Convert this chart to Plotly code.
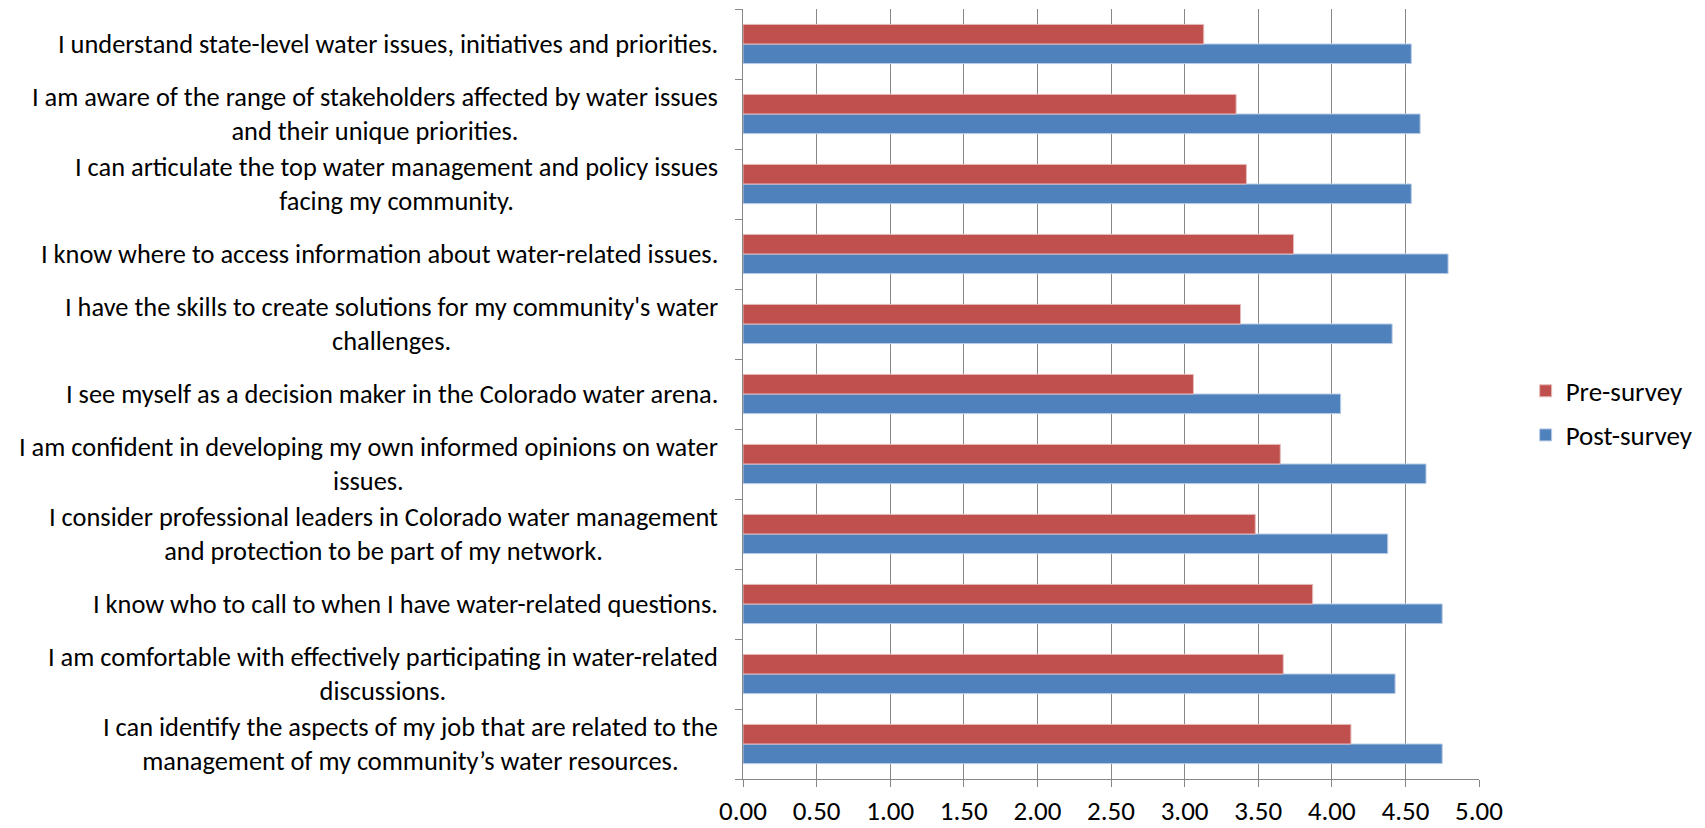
import plotly.graph_objects as go

# Categories listed top-to-bottom as in the chart
categories = [
    "I understand state-level water issues, initiatives and priorities.",
    "I am aware of the range of stakeholders affected by water issues<br>and their unique priorities.",
    "I can articulate the top water management and policy issues<br>facing my community.",
    "I know where to access information about water-related issues.",
    "I have the skills to create solutions for my community's water<br>challenges.",
    "I see myself as a decision maker in the Colorado water arena.",
    "I am confident in developing my own informed opinions on water<br>issues.",
    "I consider professional leaders in Colorado water management<br>and protection to be part of my network.",
    "I know who to call to when I have water-related questions.",
    "I am comfortable with effectively participating in water-related<br>discussions.",
    "I can identify the aspects of my job that are related to the<br>management of my community\u2019s water resources.",
]
pre_survey = [3.13, 3.35, 3.42, 3.74, 3.38, 3.06, 3.65, 3.48, 3.87, 3.67, 4.13]
post_survey = [4.54, 4.60, 4.54, 4.79, 4.41, 4.06, 4.64, 4.38, 4.75, 4.43, 4.75]
x_ticks = [0, 0.5, 1, 1.5, 2, 2.5, 3, 3.5, 4, 4.5, 5]

FONT = "Carlito, Calibri, 'Liberation Sans Narrow', Roboto, sans-serif"
FS = 27

fig = go.Figure()
fig.add_trace(go.Bar(
    y=categories, x=post_survey, orientation="h", name="Post-survey",
    marker=dict(color="#4F81BD", line=dict(color="#B9CDE5", width=1)),
    legendgroup="b", legendrank=2,
))
fig.add_trace(go.Bar(
    y=categories, x=pre_survey, orientation="h", name="Pre-survey",
    marker=dict(color="#C0504D", line=dict(color="#E6B9B8", width=1)),
    legendgroup="a", legendrank=1,
))

for c in categories:
    fig.add_annotation(
        x=0, xref="paper", y=c, yref="y", text=c, showarrow=False,
        xanchor="right", yanchor="middle", align="center", xshift=-23,
        font=dict(family=FONT, size=26.4, color="#000000"),
    )

fig.update_layout(
    width=1705, height=828,
    margin=dict(l=735, r=234, t=1, b=57, autoexpand=False),
    paper_bgcolor="white", plot_bgcolor="white",
    barmode="group", bargap=0.44, bargroupgap=0,
    font=dict(family=FONT, size=FS, color="#000000"),
    showlegend=True,
    legend=dict(
        x=1.0634, xanchor="left", y=0.475, yanchor="middle",
        traceorder="grouped", tracegroupgap=6,
        font=dict(family=FONT, size=FS, color="#000000"),
        bgcolor="rgba(0,0,0,0)",
    ),
    xaxis=dict(
        range=[0, 5], tickvals=x_ticks, tickformat=".2f",
        showgrid=True, gridcolor="#878787", gridwidth=1.3,
        showline=True, linecolor="#878787", linewidth=1.3,
        ticks="outside", ticklen=7, tickcolor="#878787", tickwidth=1.3,
        zeroline=False, fixedrange=True,
        tickfont=dict(family=FONT, size=FS, color="#000000"),
    ),
    yaxis=dict(
        categoryorder="array", categoryarray=categories[::-1],
        showticklabels=False, showgrid=False,
        showline=True, linecolor="#878787", linewidth=1.3,
        ticks="outside", ticklen=7, tickcolor="#878787", tickwidth=1.3,
        tickson="boundaries", zeroline=False, fixedrange=True,
    ),
)

fig.write_html("out.html")
